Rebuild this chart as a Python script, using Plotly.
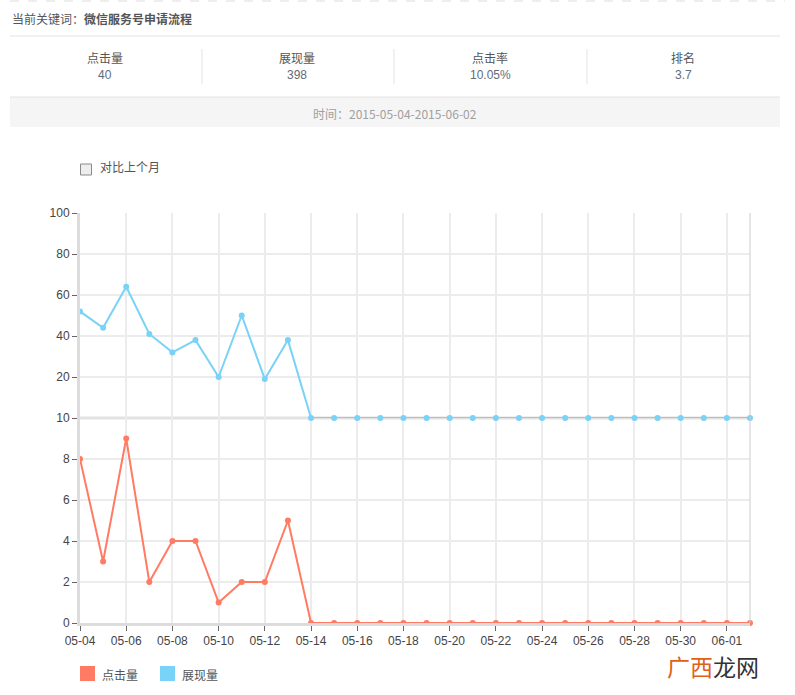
import plotly.graph_objects as go
import pandas as pd

dates = pd.date_range("2015-05-04", "2015-06-02", freq="D").strftime("%Y-%m-%d").tolist()
clicks = [8, 3, 9, 2, 4, 4, 1, 2, 2, 5] + [0] * 20
impressions = [52, 44, 64, 41, 32, 38, 20, 50, 19, 38] + [0] * 20

keyword = "微信服务号申请流程"
stat_labels = ["点击量", "展现量", "点击率", "排名"]
stat_values = ["40", "398", "10.05%", "3.7"]
period = "时间：2015-05-04-2015-06-02"

W, H = 795, 695
def py(v):
    return 1 - v / H
def px(v):
    return v / W

CN = "Noto Sans CJK SC"
LAT = "Liberation Sans, Arial"
RED = "#ff7b63"
BLUE = "#79d2f7"
GRID = "#ececec"

fig = go.Figure()
fig.add_trace(go.Scatter(x=dates, y=clicks, name="点击量", mode="lines+markers",
                         line=dict(color=RED, width=2), marker=dict(color=RED, size=6),
                         xaxis="x", yaxis="y", cliponaxis=False, showlegend=False))
fig.add_trace(go.Scatter(x=dates, y=impressions, name="展现量", mode="lines+markers",
                         line=dict(color=BLUE, width=2), marker=dict(color=BLUE, size=6),
                         xaxis="x", yaxis="y2", cliponaxis=False, showlegend=False))

axis_common = dict(showgrid=True, gridcolor=GRID, gridwidth=2, zeroline=False,
                   ticks="outside", ticklen=5, tickcolor="#666", automargin=False,
                   tickfont=dict(family=LAT, size=12, color="#444"))

fig.update_layout(
    width=W, height=H, margin=dict(l=0, r=0, t=0, b=0, pad=0, autoexpand=False),
    paper_bgcolor="white", plot_bgcolor="white", showlegend=False,
    xaxis=dict(domain=[px(80), px(750)], anchor="y", type="date",
               range=[dates[0], dates[-1]], tick0=dates[0], dtick=2 * 86400000,
               tickformat="%m-%d", showline=True, linecolor="#dcdcdc", linewidth=3,
               **axis_common),
    yaxis=dict(domain=[py(623), py(418)], anchor="x", range=[0, 10],
               tickvals=[0, 2, 4, 6, 8, 10], showline=True, linecolor="#dcdcdc", linewidth=3,
               **axis_common),
    yaxis2=dict(domain=[py(418), py(213)], anchor="x", range=[0, 100],
                tickvals=[20, 40, 60, 80, 100], showline=True, linecolor="#dcdcdc", linewidth=3,
                **axis_common),
)

shapes = []
annotations = []
shapes.append(dict(type="line", xref="paper", yref="paper", x0=px(10), x1=px(785), y0=py(1), y1=py(1),
                   line=dict(color="#dddddd", width=1, dash="dash")))
annotations.append(dict(xref="paper", yref="paper", x=px(10), y=py(18), xanchor="left", yanchor="middle",
                        text="当前关键词：<b>" + keyword + "</b>", showarrow=False,
                        font=dict(family=CN, size=12, color="#555")))
shapes.append(dict(type="line", xref="paper", yref="paper", x0=px(10), x1=px(780), y0=py(36), y1=py(36),
                   line=dict(color="#e3e3e3", width=1)))
centers = [105, 297, 490, 683]
for c, lab, val in zip(centers, stat_labels, stat_values):
    annotations.append(dict(xref="paper", yref="paper", x=px(c), y=py(58), xanchor="center", yanchor="middle",
                            text=lab, showarrow=False, font=dict(family=CN, size=12, color="#555")))
    annotations.append(dict(xref="paper", yref="paper", x=px(c), y=py(75), xanchor="center", yanchor="middle",
                            text=val, showarrow=False, font=dict(family=LAT, size=12, color="#5f6b78")))
for sx in [202, 394, 587]:
    shapes.append(dict(type="line", xref="paper", yref="paper", x0=px(sx), x1=px(sx), y0=py(49), y1=py(84),
                       line=dict(color="#e3e3e3", width=1)))
shapes.append(dict(type="rect", xref="paper", yref="paper", x0=px(10), x1=px(780), y0=py(97), y1=py(127),
                   fillcolor="#f5f5f5", line=dict(width=0), layer="below"))
shapes.append(dict(type="line", xref="paper", yref="paper", x0=px(10), x1=px(780), y0=py(97), y1=py(97),
                   line=dict(color="#e3e3e3", width=1)))
annotations.append(dict(xref="paper", yref="paper", x=px(395), y=py(113), xanchor="center", yanchor="middle",
                        text=period, showarrow=False, font=dict(family=CN, size=12, color="#a0a0a0")))
shapes.append(dict(type="rect", xref="paper", yref="paper", x0=px(80.5), x1=px(91.5), y0=py(164), y1=py(175),
                   fillcolor="#eeeeee", line=dict(color="#8a8a8a", width=1)))
annotations.append(dict(xref="paper", yref="paper", x=px(98), y=py(166), xanchor="left", yanchor="middle",
                        text="对比上个月", showarrow=False, font=dict(family=CN, size=12, color="#555")))
shapes.append(dict(type="line", xref="paper", yref="paper", x0=px(750), x1=px(750), y0=py(623), y1=py(213),
                   line=dict(color="#cccccc", width=1)))
shapes.append(dict(type="line", xref="paper", yref="paper", x0=px(80), x1=px(750), y0=py(418), y1=py(418),
                   line=dict(color="#e2e2e2", width=3), layer="below"))
for x0, col, lab in [(80, RED, "点击量"), (160, BLUE, "展现量")]:
    shapes.append(dict(type="rect", xref="paper", yref="paper", x0=px(x0), x1=px(x0 + 15), y0=py(681), y1=py(666),
                       fillcolor=col, line=dict(width=0)))
    annotations.append(dict(xref="paper", yref="paper", x=px(x0 + 20), y=py(674), xanchor="left", yanchor="middle",
                            text=lab, showarrow=False, font=dict(family=CN, size=12, color="#555")))
annotations.append(dict(xref="paper", yref="paper", x=px(665), y=py(666), xanchor="left", yanchor="middle",
                        text="<span style='color:#e0601a'>广西</span><span style='color:#333'>龙网</span>",
                        showarrow=False, font=dict(family=CN, size=23)))

fig.update_layout(shapes=shapes, annotations=annotations)
fig.write_html("out.html", config={"displayModeBar": False},
               post_script="document.body.style.margin='0';document.body.style.overflow='hidden';")
